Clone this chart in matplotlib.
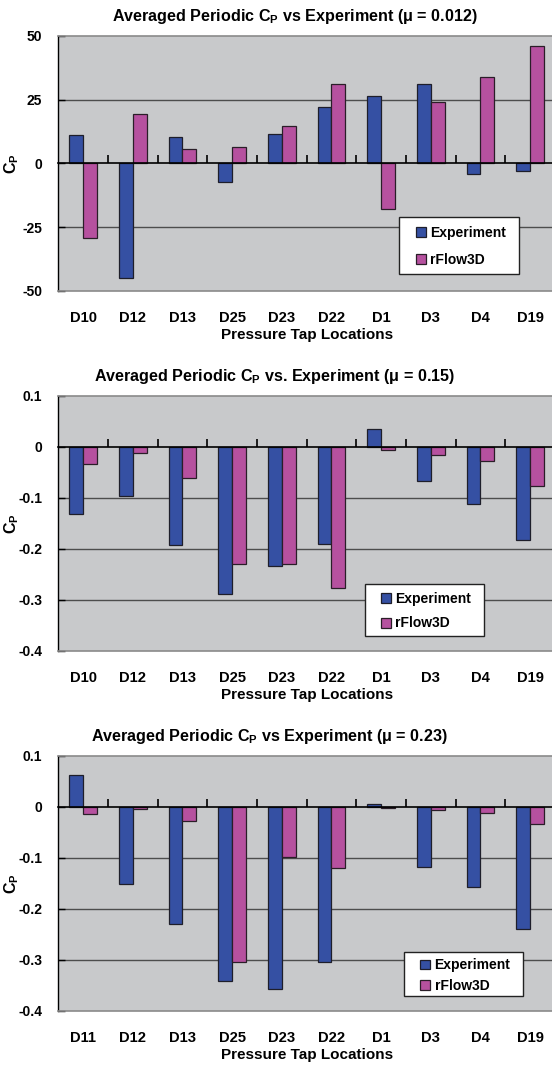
import matplotlib
matplotlib.use("Agg")
import matplotlib.pyplot as plt
from matplotlib.patches import Patch, Rectangle
import numpy as np

plt.rcParams["font.family"] = ["Liberation Sans", "DejaVu Sans"]
plt.rcParams["font.weight"] = "bold"
plt.rcParams["mathtext.fontset"] = "custom"
plt.rcParams["mathtext.rm"] = "Liberation Sans:bold"
plt.rcParams["mathtext.it"] = "Liberation Sans:bold"
plt.rcParams["mathtext.bf"] = "Liberation Sans:bold"
plt.rcParams["mathtext.default"] = "rm"

# ---- data ----
taps_a = ["D10", "D12", "D13", "D25", "D23", "D22", "D1", "D3", "D4", "D19"]
taps_c = ["D11", "D12", "D13", "D25", "D23", "D22", "D1", "D3", "D4", "D19"]

exp_mu012 = [11.3, -45.1, 10.2, -7.3, 11.5, 22.0, 26.2, 31.1, -4.3, -3.1]
rflow_mu012 = [-29.4, 19.3, 5.7, 6.4, 14.5, 31.1, -17.8, 24.1, 34.0, 46.0]

exp_mu015 = [-0.131, -0.096, -0.192, -0.288, -0.233, -0.190, 0.034, -0.067, -0.112, -0.183]
rflow_mu015 = [-0.033, -0.012, -0.061, -0.229, -0.229, -0.277, -0.006, -0.016, -0.028, -0.076]

exp_mu023 = [0.063, -0.152, -0.229, -0.342, -0.356, -0.304, 0.005, -0.117, -0.157, -0.239]
rflow_mu023 = [-0.014, -0.005, -0.027, -0.305, -0.099, -0.119, -0.003, -0.007, -0.012, -0.033]

titles = [
    r"Averaged Periodic C$_{P}$ vs Experiment (μ = 0.012)",
    r"Averaged Periodic C$_{P}$ vs. Experiment (μ = 0.15)",
    r"Averaged Periodic C$_{P}$ vs Experiment (μ = 0.23)",
]
yticks_a = [-50, -25, 0, 25, 50]
yticks_b = [-0.4, -0.3, -0.2, -0.1, 0.0, 0.1]
ytick_labels_b = ["-0.4", "-0.3", "-0.2", "-0.1", "0", "0.1"]
series_names = ["Experiment", "rFlow3D"]

BLUE = "#3550a3"
MAGENTA = "#b6519f"
PANEL_BG = "#c8c9cb"

W, H = 552, 1070
fig = plt.figure(figsize=(W / 100, H / 100), dpi=100)


def fx(px):
    return px / W


def fy(py):
    return 1 - py / H


panels = [
    dict(top=35.7, bottom=291, cats=taps_a, exp=exp_mu012, rfl=rflow_mu012,
         ylim=(-50, 50), yticks=yticks_a, ylabels=[str(v) for v in yticks_a],
         title=titles[0], tx=295, ty=16,
         box=(0.686, 0.0666, 0.9275, 0.290), leg=(0.720, 0.1747), lspace=0.88),
    dict(top=395.7, bottom=651, cats=taps_a, exp=exp_mu015, rfl=rflow_mu015,
         ylim=(-0.4, 0.1), yticks=yticks_b, ylabels=ytick_labels_b,
         title=titles[1], tx=275, ty=377,
         box=(0.617, 0.060, 0.858, 0.261), leg=(0.650, 0.1567), lspace=0.78),
    dict(top=755.7, bottom=1011, cats=taps_c, exp=exp_mu023, rfl=rflow_mu023,
         ylim=(-0.4, 0.1), yticks=yticks_b, ylabels=ytick_labels_b,
         title=titles[2], tx=269, ty=737,
         box=(0.697, 0.060, 0.935, 0.230), leg=(0.729, 0.139), lspace=0.45),
]

left_px, right_px = 58.3, 555.0
bw = 0.28

for p in panels:
    ax = fig.add_axes([fx(left_px), fy(p["bottom"]), (right_px - left_px) / W,
                       (p["bottom"] - p["top"]) / H])
    ax.set_facecolor(PANEL_BG)
    x = np.arange(len(p["cats"]))

    # horizontal gridlines
    for v in p["yticks"][1:-1]:
        if v != 0:
            ax.axhline(v, color="#4d4d4d", lw=1.0, zorder=1)

    ax.bar(x - bw / 2, p["exp"], width=bw, color=BLUE, edgecolor="#1e1e2a",
           lw=0.9, zorder=3)
    ax.bar(x + bw / 2, p["rfl"], width=bw, color=MAGENTA, edgecolor="#2a1e28",
           lw=0.9, zorder=3)

    ax.set_xlim(-0.5, len(p["cats"]) - 0.5)
    ax.set_ylim(*p["ylim"])
    ax.set_yticks(p["yticks"], p["ylabels"])
    ax.tick_params(axis="y", direction="in", length=5, width=1, pad=11.5,
                   labelsize=10, color="black")
    ax.set_xticks(x, p["cats"])
    ax.tick_params(axis="x", length=0, pad=14.5, labelsize=10.6)
    for lab in ax.get_xticklabels() + ax.get_yticklabels():
        lab.set_fontweight("bold")

    for side in ("top", "right", "bottom"):
        ax.spines[side].set_color("#8a8a8a")
        ax.spines[side].set_linewidth(1.2)
    ax.spines["left"].set_color("black")
    ax.spines["left"].set_linewidth(1.0)

    # category axis crossing at zero, with tick marks between categories
    sec = ax.secondary_xaxis(0, transform=ax.transData)
    sec.set_xticks(np.arange(0.5, len(p["cats"]) - 0.5, 1.0))
    sec.tick_params(axis="x", direction="in", length=6, width=1.2,
                    labelbottom=False, color="black")
    sec.spines["bottom"].set_color("black")
    sec.spines["bottom"].set_linewidth(1.2)
    sec.set_zorder(4)

    ax.set_xlabel("Pressure Tap Locations", fontsize=11, fontweight="bold",
                  labelpad=2)

    # legend: white framed box with the two series keys
    bx0, by0, bx1, by1 = p["box"]
    ax.add_patch(Rectangle((bx0, by0), bx1 - bx0, by1 - by0,
                           transform=ax.transAxes, facecolor="white",
                           edgecolor="#222222", lw=1.0, zorder=6))
    handles = [Patch(facecolor=BLUE, edgecolor="#1e1e2a", lw=0.9),
               Patch(facecolor=MAGENTA, edgecolor="#2a1e28", lw=0.9)]
    leg = ax.legend(handles, series_names, loc="center left",
                    bbox_to_anchor=p["leg"], fontsize=10, frameon=False,
                    handlelength=0.72, handleheight=0.72, handletextpad=0.3,
                    labelspacing=p["lspace"], borderpad=0, borderaxespad=0)
    for t in leg.get_texts():
        t.set_fontweight("bold")
    leg.set_zorder(7)

    fig.text(fx(p["tx"]), fy(p["ty"]), p["title"], ha="center", va="center",
             fontsize=11.6, fontweight="bold")
    fig.text(fx(12), fy((p["top"] + p["bottom"]) / 2), r"C$_{P}$", rotation=90,
             ha="center", va="center", fontsize=11.5, fontweight="bold")

fig.savefig("out.png", dpi=100, facecolor="white")
